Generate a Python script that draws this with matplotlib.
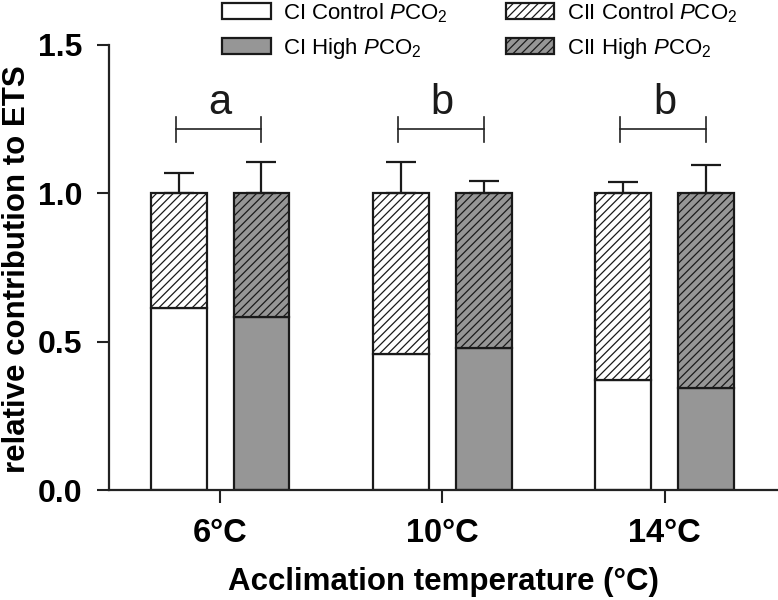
import matplotlib
matplotlib.use("Agg")
import matplotlib.pyplot as plt
import numpy as np

plt.rcParams['font.family'] = ['Liberation Sans', 'DejaVu Sans']
plt.rcParams['mathtext.fontset'] = 'custom'
plt.rcParams['mathtext.rm'] = 'Liberation Sans'
plt.rcParams['mathtext.it'] = 'Liberation Sans:italic'
plt.rcParams['hatch.linewidth'] = 0.9
plt.rcParams['hatch.color'] = '#111111'

# ---- data ----
categories = ['6°C', '10°C', '14°C']
ci_control = [0.613, 0.458, 0.371]
ci_high = [0.583, 0.479, 0.344]
cii_control = [1 - v for v in ci_control]
cii_high = [1 - v for v in ci_high]
err_control = [0.068, 0.105, 0.038]
err_high = [0.105, 0.041, 0.095]
sig_letters = ['a', 'b', 'b']
sig_height = 1.216
yticks = [0.0, 0.5, 1.0, 1.5]

legend_labels = [r'CI Control $\mathit{P}\mathrm{CO}_2$',
                 r'CI High $\mathit{P}\mathrm{CO}_2$',
                 r'CII Control $\mathit{P}\mathrm{CO}_2$',
                 r'CII High $\mathit{P}\mathrm{CO}_2$']

# ---- figure ----
fig = plt.figure(figsize=(7.78, 6.0), dpi=100)
ax = fig.add_axes([109 / 778, 1 - 490 / 600, 1 - 109 / 778, (490 - 45) / 600])

x = np.arange(len(categories))
off = 0.186
w = 0.251
edge = '#1a1a1a'
gray = '#969696'
lw = 1.6

b1 = ax.bar(x - off, ci_control, w, color='white', edgecolor=edge, linewidth=lw, zorder=2)
b2 = ax.bar(x + off, ci_high, w, color=gray, edgecolor=edge, linewidth=lw, zorder=2)
b3 = ax.bar(x - off, cii_control, w, bottom=ci_control, color='white', edgecolor=edge,
            linewidth=lw, hatch='////', zorder=2)
b4 = ax.bar(x + off, cii_high, w, bottom=ci_high, color=gray, edgecolor=edge,
            linewidth=lw, hatch='////', zorder=2)

tops = np.ones(len(categories))
ax.errorbar(x - off, tops, yerr=[np.zeros(3), err_control], fmt='none', ecolor=edge,
            elinewidth=1.6, capsize=10.5, capthick=1.6, zorder=3)
ax.errorbar(x + off, tops, yerr=[np.zeros(3), err_high], fmt='none', ecolor=edge,
            elinewidth=1.6, capsize=10.5, capthick=1.6, zorder=3)

# significance brackets
for xi, letter in zip(x, sig_letters):
    x0, x1 = xi - 0.2, xi + 0.185
    ax.plot([x0, x1], [sig_height, sig_height], color='#222222', lw=1.2, clip_on=False)
    for xe in (x0, x1):
        ax.plot([xe, xe], [sig_height - 0.042, sig_height + 0.042], color='#222222', lw=1.2,
                clip_on=False)
    ax.text(xi, 1.267, letter, ha='center', va='baseline', fontsize=30, color='#1a1a1a')

ax.set_xlim(-0.5, 2.51)
ax.set_ylim(0, 1.5)
ax.set_xticks(x)
ax.set_xticklabels(categories, fontsize=23.5, fontweight='bold')
ax.set_yticks(yticks)
ax.set_yticklabels([f'{v:.1f}' for v in yticks], fontsize=23, fontweight='bold')
ax.tick_params(axis='y', length=9, width=1.5, color='#222222', pad=10)
ax.tick_params(axis='x', length=9.5, width=1.5, color='#222222', pad=11)
for s in ('top', 'right'):
    ax.spines[s].set_visible(False)
for s in ('left', 'bottom'):
    ax.spines[s].set_linewidth(1.6)
    ax.spines[s].set_color('#222222')

ax.set_xlabel('Acclimation temperature (°C)', fontsize=22.5, fontweight='bold')
ax.xaxis.set_label_coords((443 - 109) / 669, (490 - 567) / 445)
ax.set_ylabel('relative contribution to ETS', fontsize=22.5, fontweight='bold')
ax.yaxis.label.set_va('center')
ax.yaxis.set_label_coords((17 - 109) / 669, (490 - 269) / 445)

leg = fig.legend([b1, b2, b3, b4], legend_labels, ncol=2, loc='upper left',
                 bbox_to_anchor=(222 / 778, 1 - 1 / 600), frameon=False, fontsize=16,
                 handlelength=2.2, handleheight=0.75, handletextpad=0.55,
                 columnspacing=2.6, labelspacing=0.5, borderpad=0, borderaxespad=0)

fig.savefig('out.png', dpi=100)
